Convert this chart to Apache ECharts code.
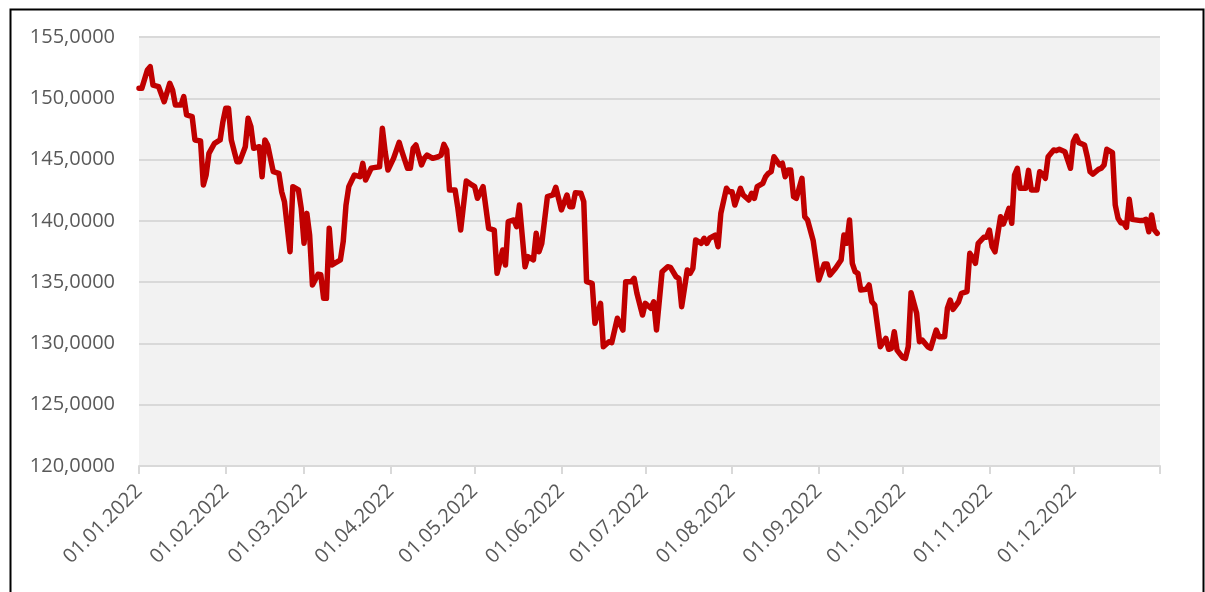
<!DOCTYPE html>
<html>
<head>
<meta charset="utf-8">
<script src="https://cdn.jsdelivr.net/npm/echarts@6/dist/echarts.min.js"></script>
<style>
  html, body { margin: 0; padding: 0; background: #ffffff; }
  #chart { width: 1205px; height: 592px; }
</style>
</head>
<body>
<div id="chart"></div>
<script>
// Day of 2022 (0 = 1 January) for each point of the series
const dayOfYear = [
  0, 1, 3, 4, 5, 7, 9, 11, 12, 13, 15, 16, 17, 19, 20, 22, 23, 24, 25, 27,
  29, 30, 31, 32, 33, 35, 36, 38, 39, 40, 41, 43, 44, 45, 46, 48, 50, 51, 52, 54,
  55, 57, 58, 59, 60, 61, 62, 64, 65, 66, 67, 68, 69, 70, 72, 73, 74, 75, 77, 79,
  80, 81, 83, 84, 86, 87, 88, 89, 91, 93, 94, 96, 97, 98, 99, 101, 102, 103, 105, 107,
  108, 109, 110, 111, 113, 114, 115, 117, 119, 120, 121, 123, 125, 127, 128, 130, 131, 132, 134, 135,
  136, 138, 139, 141, 142, 143, 144, 146, 148, 149, 151, 153, 154, 155, 156, 158, 159, 160, 162, 163,
  165, 166, 168, 169, 171, 173, 174, 176, 177, 178, 180, 181, 183, 184, 185, 187, 189, 190, 192, 193,
  194, 196, 197, 198, 199, 201, 202, 203, 204, 206, 207, 208, 210, 211, 212, 213, 215, 216, 218, 219,
  220, 221, 223, 224, 225, 226, 227, 229, 230, 231, 232, 233, 234, 235, 237, 238, 239, 241, 243, 245,
  246, 247, 249, 251, 252, 253, 254, 255, 256, 257, 258, 260, 261, 262, 263, 265, 267, 268, 269, 270,
  271, 273, 274, 275, 276, 278, 279, 280, 282, 283, 285, 286, 288, 289, 290, 291, 293, 294, 296, 297,
  298, 299, 300, 302, 303, 304, 305, 306, 308, 309, 310, 311, 312, 313, 314, 315, 317, 318, 319, 321,
  322, 323, 324, 325, 327, 328, 329, 331, 333, 334, 335, 336, 338, 339, 340, 341, 343, 344, 345, 346,
  348, 349, 350, 351, 352, 353, 354, 355, 358, 359, 360, 361, 362, 363, 364
];

// Rate on each of those days
const rate = [
  150.81, 150.81, 152.31, 152.58, 151.08, 150.95, 149.72, 151.22, 150.68, 149.45, 149.45, 150.13, 148.64, 148.50, 146.60, 146.52, 142.93, 143.74, 145.51, 146.33,
  146.60, 148.09, 149.18, 149.18, 146.60, 144.83, 144.83, 146.05, 148.37, 147.68, 145.92, 146.05, 143.60, 146.60, 146.19, 144.01, 143.88, 142.38, 141.56, 137.48,
  142.79, 142.52, 141.02, 138.17, 140.61, 138.84, 134.77, 135.64, 135.60, 133.68, 133.68, 139.39, 136.40, 136.54, 136.81, 138.30, 141.29, 142.79, 143.74, 143.60,
  144.69, 143.33, 144.29, 144.34, 144.42, 147.55, 145.64, 144.15, 145.10, 146.41, 145.64, 144.29, 144.29, 145.92, 146.19, 144.56, 145.10, 145.37, 145.10, 145.23,
  145.37, 146.24, 145.78, 142.52, 142.52, 141.02, 139.25, 143.25, 142.93, 142.79, 141.84, 142.79, 139.39, 139.25, 135.72, 137.62, 136.40, 139.93, 140.07, 139.52,
  141.29, 136.26, 137.08, 136.81, 138.98, 137.48, 138.17, 141.97, 142.11, 142.74, 140.89, 142.11, 141.16, 141.16, 142.30, 142.25, 141.56, 135.04, 134.90, 131.64,
  133.27, 129.73, 130.14, 130.06, 132.05, 131.09, 135.04, 135.04, 135.31, 134.09, 132.32, 133.27, 132.87, 133.40, 131.09, 135.85, 136.26, 136.21, 135.44, 135.31,
  133.00, 135.99, 135.72, 136.13, 138.44, 138.17, 138.58, 138.17, 138.58, 138.84, 137.89, 140.61, 142.66, 142.38, 142.38, 141.29, 142.66, 142.11, 141.70, 142.25,
  141.84, 142.79, 143.06, 143.60, 143.88, 144.01, 145.23, 144.56, 144.70, 143.60, 144.15, 144.15, 141.97, 141.84, 143.47, 140.34, 140.07, 138.40, 135.17, 136.48,
  136.48, 135.58, 136.13, 136.81, 138.84, 138.17, 140.07, 136.54, 135.85, 135.72, 134.36, 134.42, 134.77, 133.40, 133.14, 129.73, 130.42, 129.52, 129.60, 130.96,
  129.46, 128.86, 128.78, 129.73, 134.14, 132.46, 130.14, 130.28, 129.73, 129.60, 131.09, 130.55, 130.55, 132.87, 133.54, 132.78, 133.40, 134.09, 134.23, 137.35,
  137.03, 136.54, 138.17, 138.66, 138.66, 139.25, 137.89, 137.48, 140.34, 139.74, 140.34, 141.02, 139.80, 143.74, 144.29, 142.66, 142.66, 144.12, 142.52, 142.52,
  144.01, 143.82, 143.47, 145.23, 145.78, 145.73, 145.84, 145.64, 144.29, 146.46, 146.92, 146.38, 146.19, 145.23, 144.01, 143.82, 144.20, 144.29, 144.56, 145.84,
  145.57, 141.29, 140.21, 139.85, 139.80, 139.47, 141.76, 140.12, 140.02, 140.02, 140.12, 139.11, 140.48, 139.25, 138.98
];

// Month-start tick labels along the date axis
const monthLabels = [
  '01.01.2022', '01.02.2022', '01.03.2022', '01.04.2022', '01.05.2022', '01.06.2022',
  '01.07.2022', '01.08.2022', '01.09.2022', '01.10.2022', '01.11.2022', '01.12.2022'
];

// Value-axis range and step
const yMin = 120;
const yMax = 155;
const yStep = 5;

// Day offset of each month start in 2022, and the axis end (1 January 2023)
const msPerDay = 86400000;
const jan1 = Date.UTC(2022, 0, 1);
const monthStartDays = monthLabels.map((_, m) => Math.round((Date.UTC(2022, m, 1) - jan1) / msPerDay));
const yearEndDay = Math.round((Date.UTC(2023, 0, 1) - jan1) / msPerDay);

const seriesData = dayOfYear.map((d, i) => [d, rate[i]]);

const FONT = '"Open Sans", "Liberation Sans", sans-serif';

const chart = echarts.init(document.getElementById('chart'), null, { renderer: 'canvas' });
chart.setOption({
  backgroundColor: '#ffffff',
  animation: false,
  graphic: [{
    type: 'rect',
    left: 8, top: 7,
    shape: { width: 1193, height: 620 },
    style: { fill: 'none', stroke: '#000000', lineWidth: 2 },
    silent: true, z: -1
  }],
  grid: {
    left: 139, right: 45, top: 37, bottom: 126,
    show: true, backgroundColor: '#f2f2f2', borderWidth: 0
  },
  xAxis: {
    type: 'value',
    min: 0,
    max: yearEndDay,
    axisLine: { show: true, lineStyle: { color: '#d9d9d9', width: 2 } },
    axisTick: {
      show: true, length: 8, lineStyle: { color: '#d9d9d9', width: 2 },
      customValues: monthStartDays.concat([yearEndDay])
    },
    axisLabel: {
      customValues: monthStartDays,
      rotate: 45,
      margin: 22,
      color: '#595959',
      fontFamily: FONT,
      fontSize: 20,
      formatter: function (value) {
        const idx = monthStartDays.indexOf(Math.round(value));
        return idx >= 0 ? monthLabels[idx] : '';
      }
    },
    splitLine: { show: false }
  },
  yAxis: {
    type: 'value',
    min: yMin,
    max: yMax,
    interval: yStep,
    axisLine: { show: false },
    axisTick: { show: false },
    axisLabel: {
      margin: 24,
      color: '#595959',
      fontFamily: FONT,
      fontSize: 20,
      formatter: v => v.toFixed(4).replace('.', ',')
    },
    splitLine: { show: true, lineStyle: { color: '#d9d9d9', width: 2 } }
  },
  series: [{
    type: 'line',
    data: seriesData,
    showSymbol: false,
    smooth: false,
    lineStyle: { color: '#c00000', width: 5.5, join: 'round', cap: 'round' },
    itemStyle: { color: '#c00000' },
    z: 3
  }]
});
</script>
</body>
</html>
